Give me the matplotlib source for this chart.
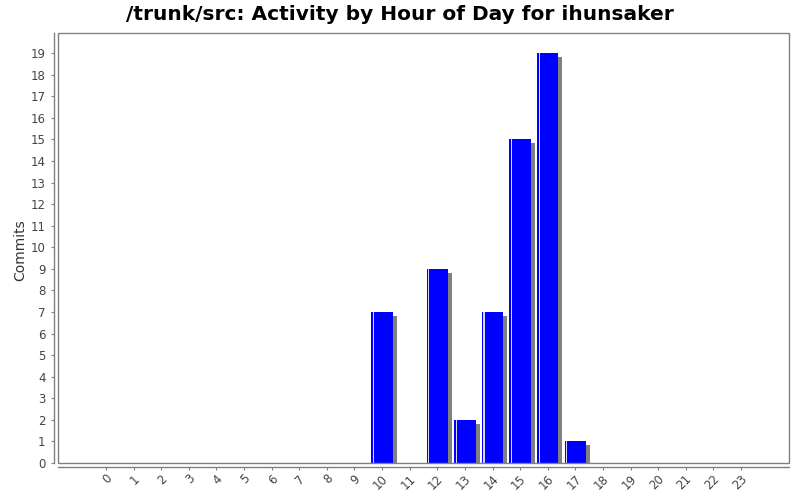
import matplotlib
matplotlib.use("Agg")
import matplotlib.pyplot as plt
import matplotlib.transforms as mtransforms
from matplotlib.patches import Rectangle

# commits per hour of day
hours = list(range(24))
commits = [0, 0, 0, 0, 0, 0, 0, 0, 0, 0, 7, 0, 9, 2, 7, 15, 19, 1, 0, 0, 0, 0, 0, 0]
hour_labels = [str(h) for h in hours]

W, H = 800, 500
fig = plt.figure(figsize=(8, 5), dpi=100)
left, bottom, right, top = 58, 463, 789, 33
ax = fig.add_axes([left / W, (H - bottom) / H, (right - left) / W, (bottom - top) / H])

ax.set_xlim(-1.74, 24.74)
ax.set_ylim(0, 19.93)

# px -> data unit helpers for the shadow offset
px_x = (24.74 + 1.74) / (right - left)
px_y = 19.93 / (bottom - top)
bw = 0.77

for h, c in zip(hours, commits):
    if c <= 0:
        continue
    # shadow
    ax.add_patch(Rectangle((h - bw / 2 + 4 * px_x, 0), bw, c - 4 * px_y,
                           facecolor="#808080", edgecolor="none", zorder=2))
    ax.add_patch(Rectangle((h - bw / 2, 0), bw, c,
                           facecolor="#0000ff", edgecolor="none", zorder=3))
    # highlight
    ax.add_patch(Rectangle((h - bw / 2 + 1.5 * px_x, 0), 1.2 * px_x, c,
                           facecolor="white", edgecolor="none", zorder=4, alpha=0.85))

# plot outline
ax.add_patch(Rectangle((0, 0), 1, 1, transform=ax.transAxes, fill=False,
                       edgecolor="#808080", linewidth=1, zorder=5, clip_on=False))

# axis lines sit a few pixels away from the plot box
off = 4 * 72 / 100
ax.spines["top"].set_visible(False)
ax.spines["right"].set_visible(False)
for side in ("left", "bottom"):
    ax.spines[side].set_position(("outward", off))
    ax.spines[side].set_color("#808080")
    ax.spines[side].set_linewidth(1)

ax.set_yticks(range(20))
ax.set_xticks(hours)
ax.set_xticklabels(hour_labels, rotation=45, ha="right", va="center", rotation_mode="anchor")
ax.tick_params(axis="y", length=2, pad=4, width=0.8, color="#808080",
               labelsize=8.5, labelcolor="#444444")
ax.tick_params(axis="x", length=2, pad=5, width=0.8, color="#808080",
               labelsize=8.5, labelcolor="#444444")
shift = mtransforms.ScaledTranslation(4 / 100, 0, fig.dpi_scale_trans)
for lbl in ax.get_xticklabels():
    lbl.set_transform(lbl.get_transform() + shift)

fig.text(20 / W, 0.5, "Commits", rotation=90, ha="center", va="center",
         fontsize=10, color="#333333")
fig.text(0.5, 1 - 14 / H, "/trunk/src: Activity by Hour of Day for ihunsaker",
         ha="center", va="center", fontsize=14.5, fontweight="bold")

fig.savefig("out.png", dpi=100)
